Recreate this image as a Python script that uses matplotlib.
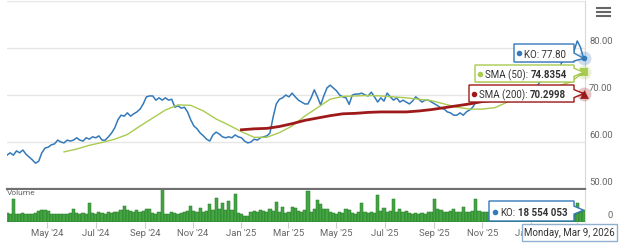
import matplotlib
matplotlib.use("Agg")
import matplotlib.dates as mdates
import matplotlib.pyplot as plt
import pandas as pd
from matplotlib.lines import Line2D
from matplotlib.patches import Polygon
from matplotlib.transforms import IdentityTransform

plt.rcParams["font.family"] = ["Roboto", "DejaVu Sans"]

START, END = "2024-03-11", "2026-03-09"

# KO close, one reading every 4 days
ko_close = [
    57.2, 57.7, 57.2, 58.1, 57.7, 58.3, 57.4, 56.8, 56.2, 55.5,
    55.9, 57.7, 58.7, 58.9, 59.4, 59.6, 60.4, 60.0, 59.8, 60.4,
    60.2, 60.4, 60.9, 60.4, 60.2, 60.9, 60.6, 61.1, 60.9, 61.3,
    60.4, 60.4, 61.1, 61.9, 63.0, 64.7, 65.7, 65.5, 66.2, 65.5,
    66.0, 66.4, 67.0, 68.1, 69.6, 69.8, 69.8, 68.9, 69.4, 68.9,
    69.4, 68.9, 69.1, 67.4, 67.7, 67.2, 67.4, 66.4, 64.7, 63.4,
    62.8, 61.9, 61.3, 60.6, 60.2, 61.5, 62.1, 61.7, 61.1, 60.9,
    61.1, 60.9, 61.5, 61.1, 60.9, 60.2, 59.8, 60.0, 60.6, 60.4,
    60.9, 61.1, 61.3, 61.9, 65.3, 68.1, 69.1, 69.4, 70.0, 69.6,
    70.4, 69.6, 68.9, 68.5, 68.1, 68.1, 69.4, 71.1, 69.6, 67.9,
    69.8, 71.5, 72.1, 71.5, 70.9, 70.0, 69.6, 69.4, 68.0, 70.0,
    70.2, 70.2, 70.4, 70.0, 69.8, 70.6, 69.6, 68.5, 69.4, 68.7,
    70.4, 69.6, 68.9, 69.4, 68.5, 68.9, 68.5, 68.1, 68.7, 69.6,
    69.1, 68.5, 68.9, 68.9, 68.5, 68.1, 67.7, 67.2, 67.0, 66.4,
    66.2, 65.7, 65.7, 66.2, 65.7, 66.4, 66.8, 67.4, 68.5, 69.6,
    70.3, 69.9, 70.8, 71.3, 70.7, 71.4, 70.9, 70.3, 69.9, 70.5,
    70.0, 70.6, 70.2, 70.9, 70.4, 71.2, 71.9, 71.5, 72.6, 73.4,
    72.9, 74.0, 74.6, 75.3, 74.9, 76.8, 77.6, 78.3, 78.0, 79.4,
    81.5, 80.2, 77.80,
]

# moving averages, one reading every 16 days
sma50 = [
    57.9, 58.5, 59.3, 59.9, 60.6, 61.6, 63.4, 65.1, 66.8, 67.9,
    67.8, 66.6, 64.9, 63.6, 62.2, 61.0, 61.0, 62.0, 63.4, 65.5,
    67.3, 69.1, 69.7, 69.8, 69.9, 69.8, 69.6, 69.4, 69.1, 68.8,
    68.1, 67.4, 67.0, 67.0, 67.3, 68.5, 69.4, 70.1, 70.9, 71.9,
    72.8, 74.8354,
]
sma200 = [
    62.6, 62.8, 62.9, 63.3, 63.9, 64.6, 65.1, 65.6, 66.0, 66.1,
    66.3, 66.4, 66.4, 66.4, 66.6, 66.9, 67.3, 67.7, 68.1, 68.6,
    68.9, 69.1, 69.3, 69.5, 69.7, 69.9, 70.1, 70.2998,
]

# volume in millions of shares, same dates as ko_close
volume_mn = [
    14, 13, 36, 13, 12, 14, 13, 12, 13, 14,
    17, 19, 18, 17, 13, 12, 13, 12, 13, 12,
    14, 21, 14, 13, 14, 13, 30, 14, 13, 16,
    14, 13, 15, 14, 15, 16, 18, 25, 19, 17,
    16, 18, 16, 17, 20, 21, 14, 13, 15, 51,
    13, 12, 16, 14, 13, 14, 16, 17, 25, 17,
    15, 22, 16, 17, 28, 18, 37, 20, 30, 18,
    33, 19, 43, 14, 13, 10, 9, 15, 17, 16,
    18, 17, 16, 21, 17, 32, 15, 23, 14, 16,
    24, 22, 17, 16, 18, 48, 15, 20, 35, 28,
    21, 20, 15, 14, 13, 15, 14, 21, 19, 14,
    13, 15, 30, 15, 14, 16, 14, 42, 17, 22,
    16, 17, 36, 16, 21, 15, 17, 14, 13, 14,
    13, 14, 13, 15, 16, 36, 20, 18, 16, 15,
    17, 20, 16, 15, 23, 16, 15, 17, 36, 17,
    16, 15, 16, 15, 14, 16, 15, 17, 14, 15,
    32, 13, 11, 16, 17, 15, 18, 16, 15, 17,
    19, 16, 24, 20, 18, 17, 16, 19, 17, 16,
    30, 19, 18.554053,
]

dates = pd.date_range(START, END, freq="4D")
sma50_dates = pd.date_range("2024-05-22", END, freq="16D")
sma200_dates = pd.date_range("2025-01-01", END, freq="16D")

KO_BLUE = "#3479b9"
SMA50_GREEN = "#a9cb4f"
SMA200_RED = "#9e1a1a"
VOL_GREEN = "#45a545"
GRID = "#e6e6e6"
LABEL = "#666666"
TEXT = "#333333"

W, H = 620, 249
fig = plt.figure(figsize=(W / 100, H / 100), dpi=100)


def rect(left, top, right, bottom):
    return [left / W, 1 - bottom / H, (right - left) / W, (bottom - top) / H]


ax = fig.add_axes(rect(7, 1, 585, 189))
axv = fig.add_axes(rect(7, 190, 585, 222), sharex=ax)

# price pane
ax.plot(dates, ko_close, color=KO_BLUE, lw=1.1, zorder=3)
ax.plot(sma50_dates, sma50, color=SMA50_GREEN, lw=1.0, zorder=4)
ax.plot(sma200_dates, sma200, color=SMA200_RED, lw=2.0, zorder=5)

ax.set_ylim(50, 90)
ax.set_yticks([50, 60, 70, 80, 90])
ax.grid(axis="y", color=GRID, lw=1)
ax.tick_params(left=False, labelleft=False, bottom=False, labelbottom=False)
for side in ("top", "left"):
    ax.spines[side].set_visible(False)
ax.spines["bottom"].set_color("#707070")
ax.spines["bottom"].set_linewidth(1.6)
ax.spines["right"].set_color("#d9d9d9")
for v in (50, 60, 70, 80):
    ax.annotate(f"{v:.2f}", xy=(1, v), xycoords=("axes fraction", "data"),
                xytext=(20, 1.5), textcoords="offset points", ha="right",
                va="bottom", fontsize=6.8, color=LABEL, annotation_clip=False)

last = dates[-1]
for val, marker, size, color in ((ko_close[-1], "o", 16, KO_BLUE),
                                 (sma50[-1], "s", 30, SMA50_GREEN),
                                 (sma200[-1], "^", 40, SMA200_RED)):
    ax.scatter([last], [val], s=100, color=color, alpha=0.25, lw=0,
               clip_on=False, zorder=6)
    ax.scatter([last], [val], s=size, marker=marker, color=color,
               lw=0, clip_on=False, zorder=7)

# volume pane
axv.bar(dates, volume_mn, width=4.0, color=VOL_GREEN,
        edgecolor="#237a23", lw=0.35)
axv.set_ylim(0, 50)
axv.set_yticks([])
for side in ("top", "left", "bottom"):
    axv.spines[side].set_visible(False)
axv.spines["right"].set_color("#d9d9d9")
axv.xaxis.set_major_locator(mdates.MonthLocator(bymonth=(1, 3, 5, 7, 9, 11)))
axv.xaxis.set_major_formatter(mdates.DateFormatter("%b '%y"))
axv.tick_params(axis="x", length=4, color="#cccccc", labelsize=6.8,
                labelcolor=LABEL, pad=1)
axv.annotate("0", xy=(1, 0), xycoords="axes fraction", xytext=(20, 1.5),
             textcoords="offset points", ha="right", va="bottom",
             fontsize=6.8, color=LABEL, annotation_clip=False)
axv.text(0, 1, "Volume", transform=axv.transAxes, ha="left", va="top",
         fontsize=6, color=LABEL)

ax.set_xlim(pd.Timestamp(START), pd.Timestamp(END) + pd.Timedelta(days=1.8))

# tooltips
renderer = fig.canvas.get_renderer()


def tip_of(axis, value):
    x, y = axis.transData.transform((mdates.date2num(last), value))
    return x, H - y


def callout(left, top, right, bottom, edge, tip=None):
    pts = [(left, top), (right, top)]
    if tip is not None:
        mid = min(max(tip[1], top + 5), bottom - 5)
        pts += [(right, mid - 4), tip, (right, mid + 4)]
    pts += [(right, bottom), (left, bottom)]
    disp = [(x, H - y) for x, y in pts]
    fig.add_artist(Polygon([(x + 1, y - 1) for x, y in disp], closed=True,
                           fc=(0, 0, 0, 0.10), ec="none",
                           transform=IdentityTransform(), zorder=9))
    fig.add_artist(Polygon(disp, closed=True, fc="white", ec=edge, lw=1,
                           transform=IdentityTransform(), zorder=10))


def label(x, ymid, dot, plain, bold=None):
    fig.add_artist(Line2D([x / W], [1 - ymid / H], marker="o", ms=3,
                          color=dot, lw=0, transform=fig.transFigure,
                          zorder=11))
    t = fig.text((x + 5) / W, 1 - ymid / H, plain, ha="left",
                 va="center_baseline", fontsize=7, color=TEXT, zorder=11)
    if bold:
        w = t.get_window_extent(renderer).width
        fig.text((x + 5 + w + 2.5) / W, 1 - ymid / H, bold, ha="left",
                 va="center_baseline", fontsize=7, fontweight="bold",
                 color=TEXT, zorder=11)


callout(514, 44, 574, 62, KO_BLUE, tip_of(ax, ko_close[-1]))
label(519, 53.5, KO_BLUE, f"KO: {ko_close[-1]:.2f}")
callout(475, 65, 574, 82, SMA50_GREEN, tip_of(ax, sma50[-1]))
label(480, 74, SMA50_GREEN, "SMA (50):", f"{sma50[-1]:.4f}")
callout(469, 85, 574, 102, SMA200_RED, tip_of(ax, sma200[-1]))
label(474, 94, SMA200_RED, "SMA (200):", f"{sma200[-1]:.4f}")

vol_shares = f"{round(volume_mn[-1] * 1e6):,}".replace(",", " ")
callout(489, 201, 574, 221, KO_BLUE, tip_of(axv, volume_mn[-1]))
label(495, 211.5, KO_BLUE, "KO:", vol_shares)

callout(522, 224, 617, 241, "#8fb0d0")
fig.text(569.5 / W, 1 - 232.5 / H, last.strftime("%A, %b %-d, %Y"),
         ha="center", va="center_baseline", fontsize=7, color=TEXT, zorder=11)

# menu icon
for y in (8, 12, 16):
    fig.add_artist(Line2D([597 / W, 610 / W], [1 - y / H, 1 - y / H],
                          color=LABEL, lw=1.5, transform=fig.transFigure))

fig.savefig("out.png", dpi=100, facecolor="white")
